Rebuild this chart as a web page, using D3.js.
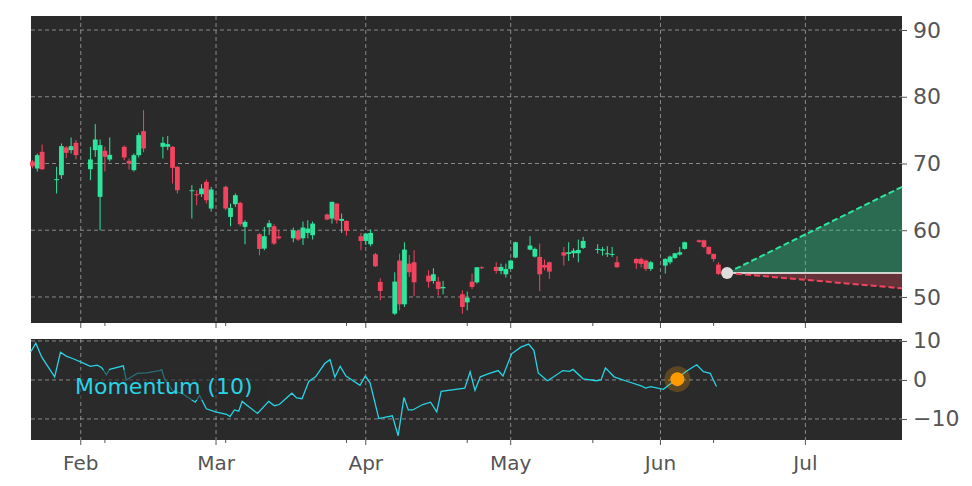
<!DOCTYPE html>
<html><head><meta charset="utf-8">
<script src="https://cdn.jsdelivr.net/npm/d3@7"></script>
<style>body{margin:0;background:#fff}svg{display:block}</style>
</head><body>
<svg id="c" width="972" height="486"></svg>
<script>
// candles: [day offset from Feb 1, open, high, low, close]
const candles = [
[-10,70.3,70.5,69.3,69.6],[-9,69.25,71.5,68.8,71.25],[-8,71.75,72.85,69,69.15],[-5,67.6,69.5,65.5,67.65],
[-4,68.25,73,67.7,72.6],[-3,72.4,72.6,70.8,71.6],[-2,72,73.9,71.5,72.6],[-1,73.1,73.5,70.6,71.25],
[2,69.15,72.5,67.5,70.6],[3,72,75.9,71,73.6],[4,65,73.6,60,72.75],[5,71.9,72.5,68.8,71],
[6,70.6,73.9,70.3,71.3],[9,72.5,72.7,70.5,70.9],[10,70.4,70.75,69.1,70],[11,69,71.5,68.8,71.25],
[12,71.25,74.6,70.9,74.25],[13,74.85,78,71.7,72.25],[17,72.5,74,70.75,73.1],[18,72.5,74.1,72,72.9],
[19,72.5,72.6,67,69.35],[20,69.5,69.6,65.5,66],[23,65.9,66.75,61.75,66],[24,65.4,66,63.75,65.3],
[25,65.4,66.9,65,66.25],[26,67.25,67.6,64,64.5],[27,63.25,66.5,62.8,66.1],[30,66.5,66.7,63,63.25],
[31,62,64,60.6,63.35],[32,63.9,65.5,63.5,65.25],[33,64.1,64.3,60.6,60.9],[34,60.5,61.5,57.9,61.25],
[37,59.4,59.6,56.25,57.2],[38,57.25,60.5,57,59.1],[39,60.45,61.5,59.3,61.05],[40,60.6,60.9,57.8,58],
[41,59.05,60,58.6,58.8],[44,58.8,60.4,58.2,60],[45,59.9,60,58.4,58.6],[46,58.8,61.3,57.8,60.4],
[47,59.6,61.5,58.8,60.25],[48,59.25,61.3,58.6,61],[51,62.35,62.5,61.5,61.6],[52,61.75,64.3,61,64.25],
[53,64,64,61,61.5],[54,61.4,62.5,59.6,61.7],[55,61.4,61.5,59.2,59.9],[58,59.1,59.6,57,58.4],
[59,58.4,59.6,57.8,59.5],[60,57.9,60.1,57.6,59.6],[61,56.4,56.6,54.5,54.6],[62,52.25,52.8,49.5,50.9],
[65,47.5,53.7,47.3,52.3],[66,55.45,56.5,48,48.9],[67,48.9,58.2,48.5,57.1],[68,55,56.3,53,53.7],
[69,55.2,57,50.1,52.2],[72,53.2,54,51.4,52.3],[73,52.4,54.3,52,53.4],[74,52.3,53,50.2,51.2],
[75,51.3,52.4,50.4,51.5],[79,50.4,51,47.5,48.5],[80,49.2,50.8,48,49.9],[81,52.3,53.5,51.2,51.5],
[82,52.2,54.5,52,54.45],[83,54.45,54.6,54.2,54.3],[86,54.5,55.2,53.5,53.9],[87,53.9,55,53.4,54.5],
[88,53.4,55,52.9,54.2],[89,54.2,55.6,54.1,55.45],[90,55.9,58.3,55.8,58.2],[93,57.1,59.1,57,57.7],
[94,56.05,57.4,55.9,57.2],[95,56,58,50.9,53.4],[96,54.8,55.6,54,54.4],[97,55.2,55.3,52.7,53.8],
[100,56.7,57.5,54.7,56.2],[101,56.45,58.2,55.4,56.7],[102,56.55,57.3,55.9,56.95],[103,56.55,58.6,55.2,57.05],
[104,57.35,59,57.2,58.4],[107,57.1,57.9,56.5,57.2],[108,56.95,57.5,56.2,57.15],[109,56.4,57.6,56,56.55],
[110,56.35,57.5,56,56.45],[111,55.2,56.1,54.4,54.45],[115,55.7,55.8,54.2,55.05],[116,55.7,55.9,54.4,54.95],
[117,55.45,55.6,53.9,54.2],[118,54.2,55.4,53.9,55.2],[121,54.7,55.8,53.5,55.7],[122,55.2,56.2,54.9,56.05],
[123,55.85,56.6,55.7,56.55],[124,56.35,57.5,56.2,56.7],[125,57.2,58.3,57.1,58.2],[128,58.5,58.6,58.1,58.25],
[129,58.5,58.6,57.3,57.5],[130,57.5,57.6,56.3,56.45],[131,56.45,56.5,55.3,55.7],[132,54.85,55.2,53.3,53.45]
];
const momDays = [-10.4,-9.3,-8.1,-5.4,-4.2,-3.0,-1.7,0.2,2.0,3.4,4.3,5.3,6.0,8.8,9.4,11.7,13.6,16.8,17.3,19.1,20.9,23.7,24.6,26.0,27.9,30.2,30.9,31.8,32.7,33.4,34.8,36.6,38.9,40.1,41.1,43.7,44.7,45.8,47.2,48.6,50.5,51.6,52.6,53.7,54.9,57.8,58.9,59.9,61.7,64.5,65.7,66.9,67.8,68.7,70.8,72.4,73.7,74.6,79.5,80.6,81.6,82.7,84.6,86.4,87.4,89.2,91.1,92.7,93.8,94.7,96.6,97.9,99.8,101.2,101.9,104.0,106.7,107.7,108.6,110.4,113.2,116.0,116.9,118.0,120.6,123.3,125.2,127.5,128.9,130.3,131.6];
const momVals = [7.1,9.4,5.9,0.8,7.1,6.1,5.5,4.5,3.5,3.8,3.2,1.3,2.7,3.6,0,1.7,1.8,2.5,0.4,-2.9,-3.4,-5.7,-4.0,-7.4,-8.2,-8.8,-9.4,-7.7,-8.0,-5.5,-6.9,-8.6,-5.5,-6.6,-6.3,-3.4,-4.6,-4.8,-0.4,0.8,4.2,5.2,0.7,3.5,1.0,-1.4,1.0,-0.8,-9.9,-9.2,-14.3,-4.5,-7.7,-7.7,-6.3,-5.7,-8.2,-2.9,-2.1,2.1,-2.7,0.8,1.7,2.4,1.0,6.7,8.4,9.2,7.6,1.8,-0.2,0.8,2.4,2.2,2.7,0.3,-0.2,0,3.1,0.8,-0.4,-1.5,-2.1,-1.7,-2.4,0.2,2.1,3.9,2.1,1.7,-1.7];
const momMarker = [123.5, 0.2];
const lastPoint = [133.8, 53.6];
const forecastEnd = 170;
const forecastHigh = 66.5, forecastLow = 51.3;
const priceTicks = [50,60,70,80,90];
const momTicks = [-10,0,10];
const monthLabels = ["Feb","Mar","Apr","May","Jun","Jul"];
const monthDays = [0,28,59,89,120,150];
const minorDays = [5,30,55,80,106,131];

const svg = d3.select("#c");
const L=31,R=902, T1=16,B1=323, T2=339,B2=440;
const x = d3.scaleLinear().domain([-10.3,170]).range([L,R]);
const y = d3.scaleLinear().domain([92.1,46.1]).range([T1,B1]);
const ym = d3.scaleLinear().domain([10.5,-15.4]).range([T2,B2]);
const G="#2ee59d", RD="#f2445f", bg="#2a2a2a", txt="#555";

function panel(t,b,ys,ticks){
  svg.append("rect").attr("x",L).attr("y",t).attr("width",R-L).attr("height",b-t).attr("fill",bg);
  const g=svg.append("g");
  ticks.forEach(v=>g.append("line").attr("x1",L).attr("x2",R).attr("y1",ys(v)).attr("y2",ys(v)));
  monthDays.forEach(d=>g.append("line").attr("x1",x(d)).attr("x2",x(d)).attr("y1",t).attr("y2",b));
  g.selectAll("line").attr("stroke","#b0b0b0").attr("stroke-dasharray","4,3").attr("stroke-width",0.9).attr("opacity",0.8);
  const ax=svg.append("g").attr("transform",`translate(${R},0)`).call(d3.axisRight(ys).tickValues(ticks).tickSize(5).tickPadding(6).tickFormat(d=>d<0?"\u2212"+(-d):d));
  ax.select(".domain").remove();
  ax.selectAll("line").attr("stroke",txt);
  ax.selectAll("text").attr("fill",txt).attr("font-size",22).attr("font-family","DejaVu Sans");
}
panel(T1,B1,y,priceTicks);
panel(T2,B2,ym,momTicks);

// x ticks on both panels
[B1,B2].forEach(b=>{
  monthDays.forEach(d=>svg.append("line").attr("x1",x(d)).attr("x2",x(d)).attr("y1",b).attr("y2",b+5).attr("stroke",txt));
  minorDays.forEach(d=>svg.append("line").attr("x1",x(d)).attr("x2",x(d)).attr("y1",b).attr("y2",b+3).attr("stroke",txt));
});
monthDays.forEach((d,i)=>svg.append("text").attr("x",x(d)).attr("y",470).attr("text-anchor","middle")
  .attr("fill",txt).attr("font-size",20).attr("font-family","DejaVu Sans").text(monthLabels[i]));

// forecast
const [lx,lv]=lastPoint;
svg.append("path").attr("d",`M${x(lx)},${y(lv)}L${x(forecastEnd)},${y(forecastHigh)}L${x(forecastEnd)},${y(lv)}Z`).attr("fill",G).attr("opacity",0.35);
svg.append("path").attr("d",`M${x(lx)},${y(lv)}L${x(forecastEnd)},${y(forecastLow)}L${x(forecastEnd)},${y(lv)}Z`).attr("fill",RD).attr("opacity",0.3);
svg.append("line").attr("x1",x(lx)).attr("x2",x(forecastEnd)).attr("y1",y(lv)).attr("y2",y(lv)).attr("stroke","#fff").attr("stroke-width",1.5);
svg.append("line").attr("x1",x(lx)).attr("x2",x(forecastEnd)).attr("y1",y(lv)).attr("y2",y(forecastHigh)).attr("stroke",G).attr("stroke-width",2).attr("stroke-dasharray","6,3");
svg.append("line").attr("x1",x(lx)).attr("x2",x(forecastEnd)).attr("y1",y(lv)).attr("y2",y(forecastLow)).attr("stroke",RD).attr("stroke-width",2).attr("stroke-dasharray","6,3");

// candles
const cg=svg.append("g");
candles.forEach(([d,o,h,l,c])=>{
  const col=c>=o?G:RD, cx=x(d);
  cg.append("line").attr("x1",cx).attr("x2",cx).attr("y1",y(h)).attr("y2",y(l)).attr("stroke",col).attr("stroke-width",1);
  const top=y(Math.max(o,c)), bot=y(Math.min(o,c));
  cg.append("rect").attr("x",cx-2.4).attr("width",4.8).attr("y",top).attr("height",Math.max(1,bot-top)).attr("fill",col);
});
svg.append("circle").attr("cx",x(lx)).attr("cy",y(lv)).attr("r",6).attr("fill","#ddd");

// momentum
const cyan="#27d3e6";
svg.append("path").datum(momDays.map((d,i)=>[d,momVals[i]]))
  .attr("d",d3.line().x(p=>x(p[0])).y(p=>ym(p[1]))).attr("fill","none").attr("stroke",cyan).attr("stroke-width",1.3);
svg.append("rect").attr("x",72).attr("y",370).attr("width",198).attr("height",30).attr("fill",bg).attr("opacity",0.6);
svg.append("text").attr("x",75).attr("y",394).attr("fill",cyan).attr("font-size",22).attr("font-family","DejaVu Sans").text("Momentum (10)");
svg.append("circle").attr("cx",x(momMarker[0])).attr("cy",ym(momMarker[1])).attr("r",13).attr("fill","#f59e0b").attr("opacity",0.25);
svg.append("circle").attr("cx",x(momMarker[0])).attr("cy",ym(momMarker[1])).attr("r",7).attr("fill","#ff9a00");
</script>
</body></html>
